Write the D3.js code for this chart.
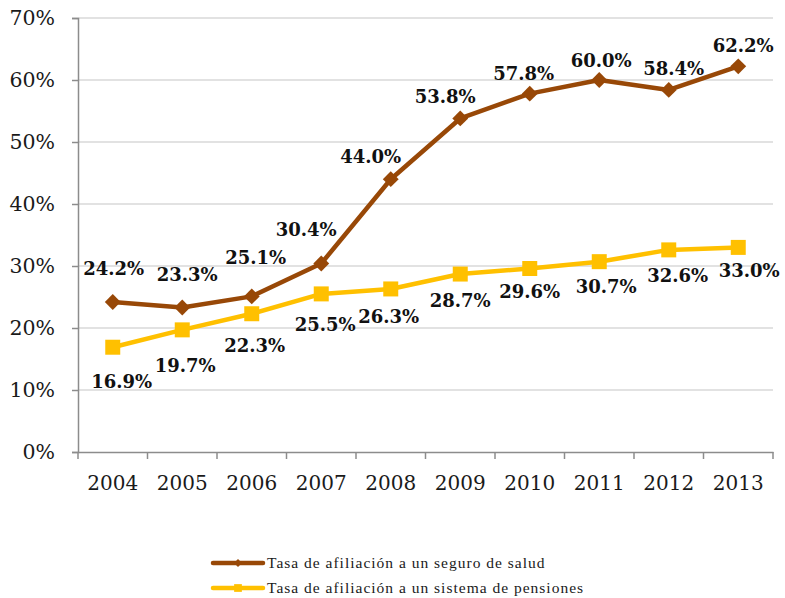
<!DOCTYPE html>
<html>
<head>
<meta charset="utf-8">
<script src="https://cdn.jsdelivr.net/npm/d3@7"></script>
<style>
  body { margin: 0; background: #fff; }
  svg text { font-family: "DejaVu Serif", serif; }
</style>
</head>
<body>
<svg id="chart" width="785" height="598"></svg>
<script>
// data
const years = ["2004", "2005", "2006", "2007", "2008", "2009", "2010", "2011", "2012", "2013"];
const salud = [24.2, 23.3, 25.1, 30.4, 44.0, 53.8, 57.8, 60.0, 58.4, 62.2];
const pensiones = [16.9, 19.7, 22.3, 25.5, 26.3, 28.7, 29.6, 30.7, 32.6, 33.0];
const yTicks = [0, 10, 20, 30, 40, 50, 60, 70];
const seriesNames = ["Tasa de afiliación a un seguro de salud", "Tasa de afiliación a un sistema de pensiones"];

// hand-placed label nudges (px from the marker), like the source chart
const saludLabelDx = [1, 5, 4, -15, -20, -15, -6, 2, 5, 5];
const saludLabelDy = [-27, -27, -32, -28, -16, -15, -14, -13, -15, -14];
const pensLabelDx = [9, 3, 3, 4, -2, 0, 0, 7, 9, 11];
const pensLabelDy = [41, 42, 38, 37, 34, 33, 30, 31, 32, 30];

const BROWN = "#984807";
const YELLOW = "#FFC000";

const svg = d3.select("#chart");
const margin = { left: 78, right: 12, top: 18, bottom: 146 };
const WIDTH = 785, HEIGHT = 598;

const x = d3.scaleBand()
  .domain(years)
  .range([margin.left, WIDTH - margin.right]);

const y = d3.scaleLinear()
  .domain([0, 70])
  .range([HEIGHT - margin.bottom, margin.top]);

const cx = (i) => x(years[i]) + x.bandwidth() / 2;

// gridlines
svg.append("g")
  .selectAll("line")
  .data(yTicks.slice(1))
  .enter()
  .append("line")
  .attr("x1", margin.left)
  .attr("x2", WIDTH - margin.right)
  .attr("y1", (d) => y(d))
  .attr("y2", (d) => y(d))
  .attr("stroke", "#d9d9d9")
  .attr("stroke-width", 1.5);

// y axis
const yAxis = svg.append("g")
  .attr("transform", `translate(${margin.left},0)`)
  .call(d3.axisLeft(y).tickValues(yTicks).tickFormat((d) => d + "%").tickSize(6).tickPadding(17));
yAxis.select(".domain").attr("stroke", "#8c8c8c").attr("stroke-width", 1.5);
yAxis.selectAll(".tick line").attr("stroke", "#8c8c8c").attr("stroke-width", 1.5);
yAxis.selectAll("text").attr("font-size", 20.5).attr("fill", "#1a1a1a")
  .style("font-family", "DejaVu Serif, serif");

// x axis, ticks sit on band edges
const xAxis = svg.append("g")
  .attr("transform", `translate(0,${y(0)})`)
  .call(d3.axisBottom(x).tickSize(0).tickPadding(24));
xAxis.select(".domain").attr("stroke", "#8c8c8c").attr("stroke-width", 1.5);
xAxis.selectAll("text").attr("font-size", 20).attr("fill", "#1a1a1a")
  .style("font-family", "DejaVu Serif, serif");
xAxis.append("g")
  .selectAll("line")
  .data(years.concat(["end"]))
  .enter()
  .append("line")
  .attr("x1", (d, i) => margin.left + i * x.step())
  .attr("x2", (d, i) => margin.left + i * x.step())
  .attr("y1", 0)
  .attr("y2", 7)
  .attr("stroke", "#8c8c8c")
  .attr("stroke-width", 1.5);

const line = d3.line()
  .x((d, i) => cx(i))
  .y((d) => y(d));

function drawSeries(values, color, symbolType, symbolSize, className) {
  const g = svg.append("g").attr("class", className);
  g.append("path")
    .attr("d", line(values))
    .attr("fill", "none")
    .attr("stroke", color)
    .attr("stroke-width", 4.5)
    .attr("stroke-linejoin", "round");
  g.selectAll("path.mark")
    .data(values)
    .enter()
    .append("path")
    .attr("class", "mark")
    .attr("d", d3.symbol().type(symbolType).size(symbolSize))
    .attr("transform", (d, i) => `translate(${cx(i)},${y(d)})`)
    .attr("fill", color);
}

function drawLabels(values, dx, dy, className) {
  svg.append("g")
    .attr("class", className)
    .selectAll("text")
    .data(values)
    .enter()
    .append("text")
    .attr("x", (d, i) => cx(i) + dx[i])
    .attr("y", (d, i) => y(d) + dy[i])
    .attr("text-anchor", "middle")
    .attr("font-size", 18)
    .attr("font-weight", "bold")
    .attr("fill", "#111")
    .text((d) => d.toFixed(1) + "%");
}

drawSeries(salud, BROWN, d3.symbolDiamond2, 160, "salud");
drawSeries(pensiones, YELLOW, d3.symbolSquare, 225, "pensiones");
drawLabels(salud, saludLabelDx, saludLabelDy, "saludLabels");
drawLabels(pensiones, pensLabelDx, pensLabelDy, "pensLabels");

// legend
const legend = svg.append("g").attr("class", "legend");
const legendItems = [
  { name: seriesNames[0], color: BROWN, symbol: d3.symbolDiamond2, size: 40 },
  { name: seriesNames[1], color: YELLOW, symbol: d3.symbolSquare, size: 60 },
];
legendItems.forEach((item, i) => {
  const ly = 563 + i * 25;
  legend.append("line")
    .attr("x1", 213).attr("x2", 263)
    .attr("y1", ly).attr("y2", ly)
    .attr("stroke", item.color)
    .attr("stroke-width", 4.5)
    .attr("stroke-linecap", "round");
  legend.append("path")
    .attr("d", d3.symbol().type(item.symbol).size(item.size))
    .attr("transform", `translate(238,${ly})`)
    .attr("fill", item.color);
  legend.append("text")
    .attr("x", 267)
    .attr("y", ly + 5)
    .attr("font-size", 15.5)
    .attr("letter-spacing", 1)
    .attr("fill", "#1a1a1a")
    .style("font-family", "Liberation Serif, serif")
    .text(item.name);
});
</script>
</body>
</html>
